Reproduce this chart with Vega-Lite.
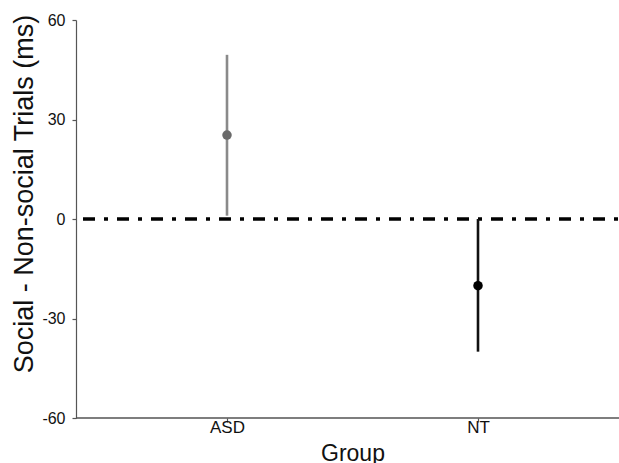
{
  "$schema": "https://vega.github.io/schema/vega-lite/v6.json",
  "autosize": "none",
  "width": 543,
  "height": 398,
  "padding": {"left": 76, "top": 20, "right": 0, "bottom": 45},
  "background": "white",
  "config": {
    "view": {"stroke": null},
    "font": "Liberation Sans",
    "axis": {"grid": false, "domainColor": "#555", "tickColor": "#555", "domainWidth": 1.2, "tickWidth": 1.2, "tickSize": 4, "labelColor": "#111", "titleColor": "#111", "titleFontWeight": "normal"}
  },
  "data": {
    "values": [
      {"group": "ASD", "mean": 25.3, "lo": 1, "hi": 49.5},
      {"group": "NT", "mean": -20.1, "lo": -40, "hi": 0}
    ]
  },
  "layer": [
    {
      "mark": {"type": "rule", "color": "#555", "strokeWidth": 1.2},
      "encoding": {"y": {"datum": -60, "type": "quantitative"}}
    },
    {
      "mark": {"type": "rule", "color": "black", "strokeWidth": 3, "strokeDash": [12, 9, 4, 9], "strokeDashOffset": 20},
      "encoding": {"y": {"datum": 0, "type": "quantitative"}}
    },
    {
      "mark": {"type": "rule", "strokeWidth": 2.6},
      "encoding": {
        "x": {"field": "group", "type": "nominal"},
        "y": {"field": "lo", "type": "quantitative"},
        "y2": {"field": "hi"},
        "color": {"condition": {"test": "datum.group === 'ASD'", "value": "#8a8a8a"}, "value": "#111111"}
      }
    },
    {
      "mark": {"type": "point", "filled": true, "opacity": 1, "size": 90},
      "encoding": {
        "x": {"field": "group", "type": "nominal", "scale": {"type": "point", "domain": ["ASD", "NT"], "range": [151, 402], "padding": 0},
          "axis": {"title": "Group", "domain": false, "labelAngle": 0, "labelAlign": "center", "labelFlush": false, "labelFontSize": 17, "labelPadding": 5, "titleFontSize": 23, "titleX": 276.5, "titleY": 42, "titleBaseline": "alphabetic", "titleAlign": "center"}},
        "y": {"field": "mean", "type": "quantitative",
          "scale": {"domain": [-60, 60], "nice": false, "zero": false},
          "axis": {"title": "Social - Non-social Trials (ms)", "values": [-60, -30, 0, 30, 60], "labelExpr": "replace(datum.label, '\u2212', '-')", "labelFontSize": 16, "labelPadding": 7, "titleFontSize": 27, "titleX": -52, "titleY": 173.5, "titleAngle": -90, "titleAlign": "center", "titleBaseline": "middle"}},
        "color": {"condition": {"test": "datum.group === 'ASD'", "value": "#6a6a6a"}, "value": "#000000"}
      }
    }
  ]
}
